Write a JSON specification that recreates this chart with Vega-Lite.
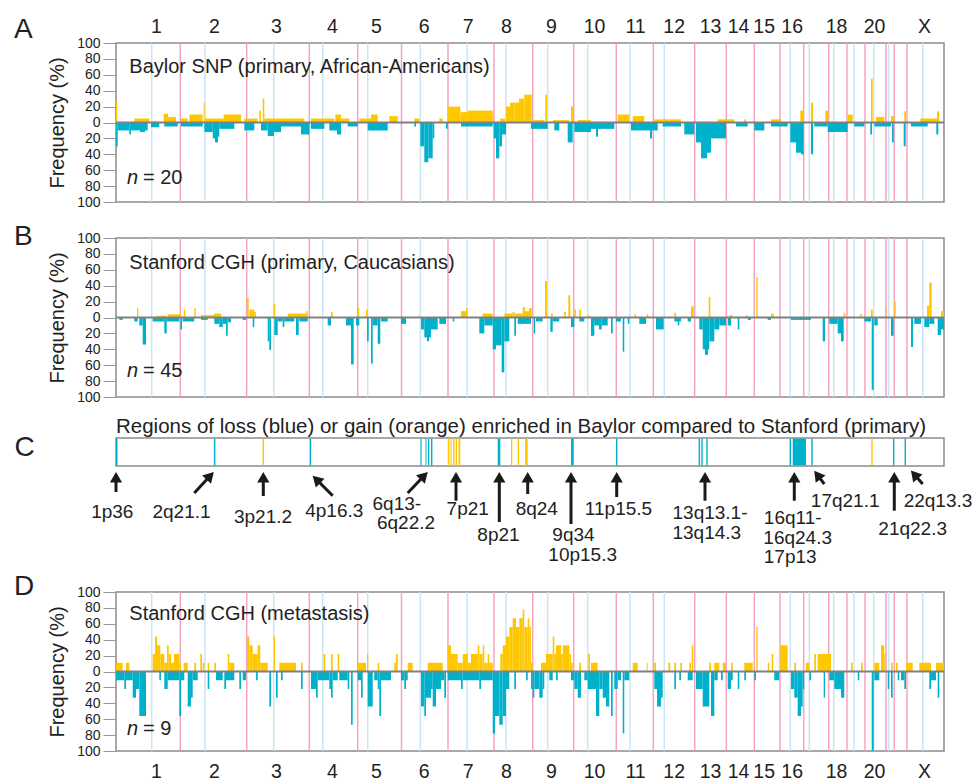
{
"$schema": "https://vega.github.io/schema/vega-lite/v6.json",
"padding": {"left": 13, "top": 15, "right": 2, "bottom": 0},
"bounds": "flush",
"spacing": 36,
"config": {
  "font": "Liberation Sans",
  "view": {"stroke": "#8c8c8c", "strokeWidth": 1.5},
  "axis": {"labelColor": "#222", "titleColor": "#222", "labelFont": "Liberation Sans", "titleFont": "Liberation Sans"},
  "axisY": {"labelOverlap": false, "tickCount": 11},
  "title": {"font": "Liberation Sans", "fontWeight": "normal", "color": "#222"}
},
"datasets": {
  "chrom": [
    {"pos":64.3,"type":"boundary"},{"pos":130.7,"type":"boundary"},{"pos":193.3,"type":"boundary"},{"pos":241.7,"type":"boundary"},{"pos":285.5,"type":"boundary"},{"pos":332,"type":"boundary"},{"pos":378,"type":"boundary"},{"pos":416.7,"type":"boundary"},{"pos":457.7,"type":"boundary"},{"pos":500.3,"type":"boundary"},{"pos":537.3,"type":"boundary"},{"pos":578.7,"type":"boundary"},{"pos":610.3,"type":"boundary"},{"pos":638.3,"type":"boundary"},{"pos":664,"type":"boundary"},{"pos":687.7,"type":"boundary"},{"pos":712.7,"type":"boundary"},{"pos":731,"type":"boundary"},{"pos":749,"type":"boundary"},{"pos":770,"type":"boundary"},{"pos":778.3,"type":"boundary"},{"pos":791,"type":"boundary"},
    {"pos":35.7,"type":"centromere"},{"pos":89,"type":"centromere"},{"pos":157.7,"type":"centromere"},{"pos":206.7,"type":"centromere"},{"pos":251.7,"type":"centromere"},{"pos":304.3,"type":"centromere"},{"pos":351,"type":"centromere"},{"pos":390,"type":"centromere"},{"pos":431.7,"type":"centromere"},{"pos":471.7,"type":"centromere"},{"pos":514,"type":"centromere"},{"pos":548.3,"type":"centromere"},{"pos":674.3,"type":"centromere"},{"pos":693.3,"type":"centromere"},{"pos":717.7,"type":"centromere"},{"pos":738,"type":"centromere"},{"pos":757.7,"type":"centromere"},{"pos":772.7,"type":"centromere"},{"pos":806.7,"type":"centromere"}
  ],
  "bars": [
    {"p":"A","a":0,"b":1.3,"f":26},{"p":"A","a":18.3,"b":33.3,"f":5},{"p":"A","a":37,"b":41,"f":2},{"p":"A","a":47.7,"b":52,"f":11},{"p":"A","a":52,"b":60,"f":7},{"p":"A","a":65,"b":71.7,"f":5},{"p":"A","a":73.3,"b":86.7,"f":10},{"p":"A","a":87.7,"b":88.7,"f":25},{"p":"A","a":89,"b":107.7,"f":5},{"p":"A","a":107.7,"b":125,"f":10},{"p":"A","a":128.3,"b":141.7,"f":5},{"p":"A","a":143.3,"b":145,"f":15},{"p":"A","a":146.7,"b":148.3,"f":30},{"p":"A","a":148.3,"b":188.3,"f":5},{"p":"A","a":195,"b":218.3,"f":5},{"p":"A","a":219.3,"b":225,"f":10},{"p":"A","a":225,"b":233.3,"f":5},{"p":"A","a":243.3,"b":255,"f":5},{"p":"A","a":255,"b":261.7,"f":10},{"p":"A","a":273.3,"b":281.7,"f":8},{"p":"A","a":298.3,"b":303.3,"f":5},{"p":"A","a":323.3,"b":326.7,"f":5},{"p":"A","a":331.7,"b":344.3,"f":20},{"p":"A","a":344.3,"b":351.7,"f":13},{"p":"A","a":351.7,"b":376.7,"f":15},{"p":"A","a":376.7,"b":378,"f":10},{"p":"A","a":384.3,"b":389,"f":5},{"p":"A","a":390,"b":394,"f":20},{"p":"A","a":394,"b":398.3,"f":25},{"p":"A","a":398.3,"b":403,"f":25},{"p":"A","a":403,"b":408.3,"f":30},{"p":"A","a":408.3,"b":415.7,"f":35},{"p":"A","a":416.7,"b":428.3,"f":3},{"p":"A","a":429.3,"b":431,"f":35},{"p":"A","a":436.7,"b":453.3,"f":3},{"p":"A","a":455,"b":457,"f":20},{"p":"A","a":461.7,"b":475,"f":3},{"p":"A","a":501.7,"b":513.3,"f":10},{"p":"A","a":516.7,"b":528.3,"f":8},{"p":"A","a":538.3,"b":565,"f":4},{"p":"A","a":601.7,"b":618.3,"f":4},{"p":"A","a":628.3,"b":630,"f":4},{"p":"A","a":655,"b":665,"f":4},{"p":"A","a":684.3,"b":687.7,"f":15},{"p":"A","a":695,"b":697,"f":25},{"p":"A","a":709.3,"b":712.3,"f":15},{"p":"A","a":731.7,"b":736.7,"f":10},{"p":"A","a":755,"b":756.7,"f":55},{"p":"A","a":760,"b":768.3,"f":7},{"p":"A","a":769,"b":770,"f":20},{"p":"A","a":775,"b":778.3,"f":8},{"p":"A","a":788.3,"b":790,"f":14},{"p":"A","a":804.3,"b":821,"f":5},{"p":"A","a":821,"b":823.3,"f":14},
    {"p":"A","a":0,"b":1.7,"f":-30},{"p":"A","a":1.7,"b":13.3,"f":-10},{"p":"A","a":13.3,"b":15,"f":-15},{"p":"A","a":15,"b":24,"f":-10},{"p":"A","a":24,"b":29,"f":-12},{"p":"A","a":29,"b":31.7,"f":-10},{"p":"A","a":35,"b":43.3,"f":-6},{"p":"A","a":48.3,"b":61.7,"f":-5},{"p":"A","a":65,"b":86.7,"f":-5},{"p":"A","a":88.3,"b":96.7,"f":-12},{"p":"A","a":96.7,"b":99,"f":-20},{"p":"A","a":99,"b":102,"f":-25},{"p":"A","a":102,"b":103.3,"f":-18},{"p":"A","a":103.3,"b":118.3,"f":-8},{"p":"A","a":128.3,"b":138.3,"f":-10},{"p":"A","a":145,"b":151.7,"f":-10},{"p":"A","a":151.7,"b":158,"f":-17},{"p":"A","a":158,"b":165,"f":-12},{"p":"A","a":165,"b":185,"f":-5},{"p":"A","a":185,"b":193.3,"f":-15},{"p":"A","a":195,"b":208.3,"f":-8},{"p":"A","a":213.3,"b":221,"f":-10},{"p":"A","a":221,"b":225,"f":-15},{"p":"A","a":231.7,"b":241.7,"f":-5},{"p":"A","a":251.7,"b":271.7,"f":-10},{"p":"A","a":298.3,"b":300,"f":-5},{"p":"A","a":304.3,"b":308.3,"f":-30},{"p":"A","a":308.3,"b":312.3,"f":-50},{"p":"A","a":312.3,"b":316.7,"f":-45},{"p":"A","a":316.7,"b":318.3,"f":-20},{"p":"A","a":330,"b":331.7,"f":-8},{"p":"A","a":345,"b":376.7,"f":-5},{"p":"A","a":377.7,"b":380,"f":-20},{"p":"A","a":380,"b":383.3,"f":-45},{"p":"A","a":383.3,"b":386,"f":-30},{"p":"A","a":386,"b":390,"f":-15},{"p":"A","a":415,"b":431.7,"f":-8},{"p":"A","a":438.3,"b":443.3,"f":-10},{"p":"A","a":451.7,"b":456.7,"f":-25},{"p":"A","a":458.3,"b":475,"f":-12},{"p":"A","a":475,"b":480,"f":-8},{"p":"A","a":480,"b":482,"f":-18},{"p":"A","a":482,"b":498.3,"f":-8},{"p":"A","a":515,"b":534,"f":-10},{"p":"A","a":534,"b":536,"f":-20},{"p":"A","a":536,"b":541.7,"f":-10},{"p":"A","a":546.7,"b":565,"f":-5},{"p":"A","a":568.3,"b":578.3,"f":-15},{"p":"A","a":580,"b":585,"f":-25},{"p":"A","a":585,"b":591,"f":-45},{"p":"A","a":591,"b":595,"f":-38},{"p":"A","a":595,"b":610,"f":-20},{"p":"A","a":620,"b":631.7,"f":-5},{"p":"A","a":638.3,"b":648.3,"f":-10},{"p":"A","a":655,"b":671.7,"f":-5},{"p":"A","a":674.3,"b":680,"f":-25},{"p":"A","a":680,"b":685,"f":-38},{"p":"A","a":685,"b":687.7,"f":-40},{"p":"A","a":695,"b":697,"f":-40},{"p":"A","a":698.3,"b":711.7,"f":-5},{"p":"A","a":711.7,"b":731.7,"f":-12},{"p":"A","a":738.3,"b":748.3,"f":-5},{"p":"A","a":754.3,"b":756,"f":-15},{"p":"A","a":758.3,"b":775,"f":-5},{"p":"A","a":776,"b":777.7,"f":-25},{"p":"A","a":787.7,"b":789.7,"f":-30},{"p":"A","a":795,"b":811.7,"f":-5},{"p":"A","a":820.3,"b":822.3,"f":-15},
    {"p":"B","a":21,"b":22.3,"f":12},{"p":"B","a":40,"b":50,"f":2},{"p":"B","a":51.7,"b":65,"f":4},{"p":"B","a":67.7,"b":69.3,"f":10},{"p":"B","a":78.3,"b":79.7,"f":12},{"p":"B","a":85,"b":98,"f":3},{"p":"B","a":98,"b":105,"f":5},{"p":"B","a":131,"b":132.7,"f":25},{"p":"B","a":133.3,"b":138.3,"f":10},{"p":"B","a":138.3,"b":140,"f":7},{"p":"B","a":157.7,"b":159.3,"f":17},{"p":"B","a":171.7,"b":190,"f":5},{"p":"B","a":190,"b":191.7,"f":8},{"p":"B","a":215,"b":216.7,"f":7},{"p":"B","a":241.7,"b":243.3,"f":12},{"p":"B","a":250,"b":251.7,"f":10},{"p":"B","a":345,"b":350,"f":8},{"p":"B","a":350,"b":351.7,"f":12},{"p":"B","a":366.7,"b":376.7,"f":5},{"p":"B","a":388.3,"b":396.7,"f":5},{"p":"B","a":396.7,"b":398.3,"f":7},{"p":"B","a":398.3,"b":406.7,"f":5},{"p":"B","a":406.7,"b":409,"f":13},{"p":"B","a":409,"b":413,"f":8},{"p":"B","a":413,"b":415.7,"f":12},{"p":"B","a":429,"b":431,"f":46},{"p":"B","a":435,"b":436.7,"f":5},{"p":"B","a":448.3,"b":450,"f":7},{"p":"B","a":452.3,"b":454.3,"f":28},{"p":"B","a":458.3,"b":460,"f":10},{"p":"B","a":463.3,"b":465,"f":10},{"p":"B","a":471.7,"b":473.3,"f":3},{"p":"B","a":518.3,"b":520,"f":4},{"p":"B","a":530.7,"b":532.3,"f":4},{"p":"B","a":558.3,"b":560,"f":6},{"p":"B","a":575,"b":577.7,"f":14},{"p":"B","a":592.7,"b":594.3,"f":26},{"p":"B","a":613.3,"b":616.7,"f":3},{"p":"B","a":630,"b":631.7,"f":3},{"p":"B","a":640.3,"b":641.7,"f":51},{"p":"B","a":655,"b":657.7,"f":5},{"p":"B","a":727.7,"b":729.3,"f":6},{"p":"B","a":744.3,"b":746,"f":4},{"p":"B","a":755,"b":756.7,"f":10},{"p":"B","a":769,"b":770.3,"f":14},{"p":"B","a":778.3,"b":779.7,"f":20},{"p":"B","a":811,"b":813.3,"f":15},{"p":"B","a":813.3,"b":815.7,"f":44},{"p":"B","a":825,"b":828,"f":8},
    {"p":"B","a":3.3,"b":6.7,"f":-3},{"p":"B","a":18.3,"b":21.7,"f":-5},{"p":"B","a":23.3,"b":26.7,"f":-10},{"p":"B","a":26.7,"b":30,"f":-34},{"p":"B","a":36.7,"b":48.3,"f":-5},{"p":"B","a":48.3,"b":50.7,"f":-20},{"p":"B","a":50.7,"b":63.3,"f":-5},{"p":"B","a":64.3,"b":66,"f":-15},{"p":"B","a":66.7,"b":78.3,"f":-5},{"p":"B","a":85,"b":91.7,"f":-3},{"p":"B","a":98.3,"b":103.3,"f":-8},{"p":"B","a":103.3,"b":106.7,"f":-12},{"p":"B","a":106.7,"b":110,"f":-8},{"p":"B","a":110,"b":111.7,"f":-23},{"p":"B","a":111.7,"b":115,"f":-6},{"p":"B","a":126.7,"b":130,"f":-3},{"p":"B","a":136.7,"b":138.3,"f":-12},{"p":"B","a":151.7,"b":153.3,"f":-30},{"p":"B","a":153.3,"b":155,"f":-41},{"p":"B","a":158.3,"b":161.7,"f":-22},{"p":"B","a":161.7,"b":166.7,"f":-5},{"p":"B","a":166.7,"b":168.3,"f":-12},{"p":"B","a":168.3,"b":178.3,"f":-5},{"p":"B","a":180,"b":182.7,"f":-22},{"p":"B","a":183.3,"b":191.7,"f":-5},{"p":"B","a":211.7,"b":215,"f":-10},{"p":"B","a":230,"b":235,"f":-10},{"p":"B","a":235,"b":237.7,"f":-59},{"p":"B","a":240,"b":243.3,"f":-10},{"p":"B","a":251,"b":252.7,"f":-30},{"p":"B","a":255,"b":256.7,"f":-58},{"p":"B","a":256.7,"b":261.7,"f":-10},{"p":"B","a":261.7,"b":264.3,"f":-33},{"p":"B","a":265,"b":271.7,"f":-5},{"p":"B","a":285,"b":290,"f":-8},{"p":"B","a":305,"b":308.3,"f":-15},{"p":"B","a":308.3,"b":311,"f":-25},{"p":"B","a":311,"b":313,"f":-30},{"p":"B","a":313,"b":315,"f":-25},{"p":"B","a":315,"b":321.7,"f":-15},{"p":"B","a":323.3,"b":330,"f":-8},{"p":"B","a":336.7,"b":338.3,"f":-5},{"p":"B","a":363.3,"b":368.3,"f":-20},{"p":"B","a":368.3,"b":376.7,"f":-10},{"p":"B","a":376.7,"b":380,"f":-40},{"p":"B","a":380,"b":385.7,"f":-35},{"p":"B","a":385.7,"b":388.3,"f":-69},{"p":"B","a":388.3,"b":393.3,"f":-30},{"p":"B","a":398.3,"b":400,"f":-23},{"p":"B","a":401.7,"b":415,"f":-8},{"p":"B","a":417.7,"b":419,"f":-20},{"p":"B","a":420,"b":426.7,"f":-5},{"p":"B","a":434.3,"b":436.7,"f":-18},{"p":"B","a":436.7,"b":443.3,"f":-5},{"p":"B","a":455,"b":458.3,"f":-12},{"p":"B","a":463.3,"b":468.3,"f":-5},{"p":"B","a":475,"b":478.3,"f":-23},{"p":"B","a":478.3,"b":483,"f":-10},{"p":"B","a":483,"b":485.7,"f":-15},{"p":"B","a":485.7,"b":491.7,"f":-10},{"p":"B","a":495,"b":496.7,"f":-20},{"p":"B","a":500,"b":505,"f":-5},{"p":"B","a":506.7,"b":508.3,"f":-43},{"p":"B","a":511.7,"b":513.3,"f":-8},{"p":"B","a":523.3,"b":530,"f":-8},{"p":"B","a":540,"b":547.7,"f":-15},{"p":"B","a":558.3,"b":565,"f":-5},{"p":"B","a":561.7,"b":563.3,"f":-10},{"p":"B","a":571.7,"b":575,"f":-5},{"p":"B","a":583.3,"b":586.7,"f":-15},{"p":"B","a":586.7,"b":589,"f":-40},{"p":"B","a":589,"b":592,"f":-47},{"p":"B","a":592,"b":593.3,"f":-40},{"p":"B","a":593.3,"b":598.3,"f":-30},{"p":"B","a":598.3,"b":603.3,"f":-15},{"p":"B","a":603.3,"b":610,"f":-10},{"p":"B","a":611.7,"b":615,"f":-10},{"p":"B","a":621.7,"b":623.3,"f":-15},{"p":"B","a":631.7,"b":635,"f":-3},{"p":"B","a":651.7,"b":655,"f":-3},{"p":"B","a":675,"b":695,"f":-3},{"p":"B","a":706.7,"b":709,"f":-30},{"p":"B","a":713.3,"b":721.7,"f":-8},{"p":"B","a":721.7,"b":725,"f":-20},{"p":"B","a":725,"b":727.7,"f":-30},{"p":"B","a":748.3,"b":755,"f":-5},{"p":"B","a":755.7,"b":757.7,"f":-91},{"p":"B","a":758.3,"b":761.7,"f":-10},{"p":"B","a":775,"b":777.7,"f":-23},{"p":"B","a":795,"b":797,"f":-37},{"p":"B","a":798.3,"b":805,"f":-8},{"p":"B","a":808.3,"b":813.3,"f":-12},{"p":"B","a":813.3,"b":818.3,"f":-8},{"p":"B","a":821.7,"b":825,"f":-22},{"p":"B","a":825,"b":828,"f":-15},
    {"p":"D","a":0,"b":6.7,"f":11},{"p":"D","a":10,"b":13.3,"f":11},{"p":"D","a":36.7,"b":39,"f":22},{"p":"D","a":39,"b":41,"f":44},{"p":"D","a":41,"b":44.3,"f":33},{"p":"D","a":44.3,"b":48.3,"f":22},{"p":"D","a":48.3,"b":51,"f":11},{"p":"D","a":51,"b":52.7,"f":33},{"p":"D","a":52.7,"b":55,"f":22},{"p":"D","a":55,"b":58,"f":11},{"p":"D","a":58,"b":63.3,"f":22},{"p":"D","a":63.3,"b":65,"f":11},{"p":"D","a":67.7,"b":71.7,"f":11},{"p":"D","a":78.3,"b":80,"f":11},{"p":"D","a":84.3,"b":86,"f":22},{"p":"D","a":86.7,"b":88.3,"f":11},{"p":"D","a":91.7,"b":93.3,"f":11},{"p":"D","a":98.3,"b":100,"f":11},{"p":"D","a":111.7,"b":113.3,"f":22},{"p":"D","a":113.3,"b":118.3,"f":11},{"p":"D","a":131,"b":133.3,"f":44},{"p":"D","a":133.3,"b":136.7,"f":33},{"p":"D","a":136.7,"b":141.7,"f":22},{"p":"D","a":141.7,"b":144.3,"f":33},{"p":"D","a":144.3,"b":151.7,"f":11},{"p":"D","a":157.7,"b":159,"f":44},{"p":"D","a":163.3,"b":180,"f":11},{"p":"D","a":185,"b":186.7,"f":11},{"p":"D","a":207.7,"b":209.3,"f":22},{"p":"D","a":215,"b":216.7,"f":22},{"p":"D","a":221.7,"b":223.3,"f":22},{"p":"D","a":241.7,"b":250,"f":11},{"p":"D","a":251,"b":252.3,"f":22},{"p":"D","a":261.7,"b":263.3,"f":11},{"p":"D","a":278.3,"b":280,"f":11},{"p":"D","a":280,"b":281.7,"f":22},{"p":"D","a":291.7,"b":296.7,"f":11},{"p":"D","a":311.7,"b":326.7,"f":11},{"p":"D","a":331.7,"b":335,"f":33},{"p":"D","a":335,"b":341.7,"f":22},{"p":"D","a":341.7,"b":346.7,"f":11},{"p":"D","a":346.7,"b":351.7,"f":22},{"p":"D","a":351.7,"b":355,"f":11},{"p":"D","a":355,"b":361.7,"f":22},{"p":"D","a":361.7,"b":363.3,"f":33},{"p":"D","a":363.3,"b":366.7,"f":22},{"p":"D","a":366.7,"b":368.3,"f":33},{"p":"D","a":368.3,"b":371.7,"f":11},{"p":"D","a":371.7,"b":373.3,"f":22},{"p":"D","a":373.3,"b":376.7,"f":11},{"p":"D","a":384.3,"b":386.7,"f":22},{"p":"D","a":386.7,"b":390,"f":33},{"p":"D","a":390,"b":393.3,"f":44},{"p":"D","a":393.3,"b":396.7,"f":56},{"p":"D","a":396.7,"b":400,"f":67},{"p":"D","a":400,"b":403.3,"f":56},{"p":"D","a":403.3,"b":406.7,"f":67},{"p":"D","a":406.7,"b":408.3,"f":78},{"p":"D","a":408.3,"b":411.7,"f":56},{"p":"D","a":411.7,"b":413.3,"f":67},{"p":"D","a":413.3,"b":415,"f":56},{"p":"D","a":415,"b":416.7,"f":11},{"p":"D","a":425,"b":430,"f":11},{"p":"D","a":430,"b":436.7,"f":22},{"p":"D","a":436.7,"b":438.3,"f":44},{"p":"D","a":438.3,"b":440,"f":22},{"p":"D","a":440,"b":445,"f":33},{"p":"D","a":445,"b":446.7,"f":22},{"p":"D","a":446.7,"b":453.3,"f":33},{"p":"D","a":453.3,"b":455,"f":22},{"p":"D","a":455,"b":456.7,"f":11},{"p":"D","a":463.3,"b":465,"f":11},{"p":"D","a":472.3,"b":474,"f":22},{"p":"D","a":475,"b":481.7,"f":11},{"p":"D","a":516.7,"b":521.7,"f":11},{"p":"D","a":530.7,"b":531.7,"f":11},{"p":"D","a":538.3,"b":540,"f":11},{"p":"D","a":552.3,"b":554.3,"f":11},{"p":"D","a":558.3,"b":560,"f":11},{"p":"D","a":564.3,"b":566,"f":11},{"p":"D","a":573.3,"b":575,"f":11},{"p":"D","a":575.7,"b":577.3,"f":33},{"p":"D","a":593.3,"b":595,"f":11},{"p":"D","a":598.3,"b":603.3,"f":11},{"p":"D","a":606.7,"b":610,"f":11},{"p":"D","a":615,"b":616.7,"f":11},{"p":"D","a":628.3,"b":636.7,"f":11},{"p":"D","a":640.3,"b":641.7,"f":56},{"p":"D","a":651.7,"b":653.3,"f":11},{"p":"D","a":655.7,"b":657.3,"f":22},{"p":"D","a":664.3,"b":671.7,"f":33},{"p":"D","a":678.3,"b":680,"f":11},{"p":"D","a":690,"b":693.3,"f":11},{"p":"D","a":698.3,"b":700,"f":22},{"p":"D","a":701.7,"b":715,"f":22},{"p":"D","a":735,"b":736.7,"f":11},{"p":"D","a":745,"b":746.7,"f":11},{"p":"D","a":758.3,"b":763.3,"f":11},{"p":"D","a":765,"b":768.3,"f":33},{"p":"D","a":768.3,"b":770,"f":22},{"p":"D","a":775,"b":776.7,"f":11},{"p":"D","a":780,"b":781.7,"f":11},{"p":"D","a":790,"b":796.7,"f":11},{"p":"D","a":803.3,"b":815,"f":11},{"p":"D","a":820,"b":828,"f":11},
    {"p":"D","a":0,"b":8.3,"f":-11},{"p":"D","a":8.3,"b":10,"f":-22},{"p":"D","a":10,"b":16.7,"f":-11},{"p":"D","a":16.7,"b":20,"f":-33},{"p":"D","a":20,"b":23.3,"f":-22},{"p":"D","a":23.3,"b":30,"f":-56},{"p":"D","a":43.3,"b":45,"f":-11},{"p":"D","a":48.3,"b":51.7,"f":-22},{"p":"D","a":51.7,"b":63.3,"f":-11},{"p":"D","a":63.3,"b":65,"f":-56},{"p":"D","a":65,"b":68.3,"f":-11},{"p":"D","a":71.7,"b":75,"f":-44},{"p":"D","a":75,"b":76.7,"f":-33},{"p":"D","a":76.7,"b":81.7,"f":-11},{"p":"D","a":91.7,"b":93.3,"f":-22},{"p":"D","a":100,"b":106.7,"f":-11},{"p":"D","a":108.3,"b":110,"f":-22},{"p":"D","a":110,"b":118.3,"f":-11},{"p":"D","a":123.3,"b":125,"f":-22},{"p":"D","a":126.7,"b":130,"f":-11},{"p":"D","a":140,"b":141.7,"f":-11},{"p":"D","a":153.3,"b":155,"f":-44},{"p":"D","a":160,"b":161.7,"f":-33},{"p":"D","a":165,"b":166.7,"f":-11},{"p":"D","a":185,"b":186.7,"f":-22},{"p":"D","a":195,"b":200,"f":-22},{"p":"D","a":200,"b":201.7,"f":-33},{"p":"D","a":201.7,"b":213.3,"f":-11},{"p":"D","a":213.3,"b":215,"f":-22},{"p":"D","a":215,"b":216.7,"f":-33},{"p":"D","a":216.7,"b":221.7,"f":-11},{"p":"D","a":223.3,"b":231.7,"f":-11},{"p":"D","a":231.7,"b":233.3,"f":-22},{"p":"D","a":235,"b":236.7,"f":-67},{"p":"D","a":241.7,"b":245,"f":-11},{"p":"D","a":245,"b":246.7,"f":-33},{"p":"D","a":251.7,"b":256.7,"f":-44},{"p":"D","a":258.3,"b":261.7,"f":-11},{"p":"D","a":261.7,"b":263.3,"f":-22},{"p":"D","a":263.3,"b":265,"f":-56},{"p":"D","a":265,"b":275,"f":-11},{"p":"D","a":285,"b":288.3,"f":-11},{"p":"D","a":288.3,"b":290,"f":-22},{"p":"D","a":290,"b":291.7,"f":-11},{"p":"D","a":305,"b":308.3,"f":-44},{"p":"D","a":308.3,"b":310,"f":-56},{"p":"D","a":310,"b":315,"f":-33},{"p":"D","a":315,"b":316.7,"f":-22},{"p":"D","a":316.7,"b":320,"f":-44},{"p":"D","a":320,"b":325,"f":-22},{"p":"D","a":325,"b":328.3,"f":-11},{"p":"D","a":328.3,"b":330,"f":-33},{"p":"D","a":331.7,"b":345,"f":-11},{"p":"D","a":345,"b":346.7,"f":-22},{"p":"D","a":346.7,"b":363.3,"f":-11},{"p":"D","a":363.3,"b":365,"f":-22},{"p":"D","a":365,"b":376.7,"f":-11},{"p":"D","a":376.7,"b":379,"f":-78},{"p":"D","a":379,"b":383.3,"f":-56},{"p":"D","a":383.3,"b":386.7,"f":-67},{"p":"D","a":386.7,"b":390,"f":-56},{"p":"D","a":390,"b":393.3,"f":-22},{"p":"D","a":398.3,"b":400,"f":-22},{"p":"D","a":410,"b":411.7,"f":-11},{"p":"D","a":415,"b":416.7,"f":-22},{"p":"D","a":416.7,"b":418.3,"f":-33},{"p":"D","a":418.3,"b":423.3,"f":-22},{"p":"D","a":423.3,"b":426.7,"f":-33},{"p":"D","a":426.7,"b":428.3,"f":-22},{"p":"D","a":433.3,"b":436.7,"f":-11},{"p":"D","a":440,"b":441.7,"f":-11},{"p":"D","a":455,"b":458.3,"f":-11},{"p":"D","a":458.3,"b":461.7,"f":-22},{"p":"D","a":461.7,"b":465,"f":-33},{"p":"D","a":468.3,"b":471.7,"f":-11},{"p":"D","a":471.7,"b":480,"f":-22},{"p":"D","a":480,"b":483.3,"f":-56},{"p":"D","a":483.3,"b":486.7,"f":-22},{"p":"D","a":486.7,"b":490,"f":-33},{"p":"D","a":490,"b":493.3,"f":-44},{"p":"D","a":495,"b":496.7,"f":-56},{"p":"D","a":498.3,"b":501.7,"f":-22},{"p":"D","a":501.7,"b":505,"f":-11},{"p":"D","a":506.7,"b":508.3,"f":-78},{"p":"D","a":508.3,"b":513.3,"f":-11},{"p":"D","a":538.3,"b":541,"f":-22},{"p":"D","a":541,"b":545,"f":-44},{"p":"D","a":545,"b":546.7,"f":-33},{"p":"D","a":558.3,"b":560,"f":-22},{"p":"D","a":563.3,"b":565,"f":-11},{"p":"D","a":571.7,"b":576.7,"f":-11},{"p":"D","a":580,"b":586.7,"f":-22},{"p":"D","a":586.7,"b":593.3,"f":-44},{"p":"D","a":595,"b":598.3,"f":-56},{"p":"D","a":598.3,"b":601.7,"f":-11},{"p":"D","a":605,"b":606.7,"f":-11},{"p":"D","a":611.7,"b":615,"f":-22},{"p":"D","a":615,"b":616.7,"f":-11},{"p":"D","a":621.7,"b":623.3,"f":-22},{"p":"D","a":628.3,"b":630,"f":-11},{"p":"D","a":638.3,"b":640,"f":-11},{"p":"D","a":658.3,"b":663.3,"f":-11},{"p":"D","a":675,"b":678.3,"f":-22},{"p":"D","a":678.3,"b":681.7,"f":-33},{"p":"D","a":681.7,"b":685,"f":-56},{"p":"D","a":685,"b":686.7,"f":-44},{"p":"D","a":686.7,"b":688.3,"f":-22},{"p":"D","a":693.3,"b":695,"f":-11},{"p":"D","a":707.7,"b":709,"f":-33},{"p":"D","a":713.3,"b":718.3,"f":-11},{"p":"D","a":718.3,"b":725,"f":-22},{"p":"D","a":725,"b":728.3,"f":-33},{"p":"D","a":741.7,"b":743.3,"f":-11},{"p":"D","a":755.7,"b":757.7,"f":-100},{"p":"D","a":758.3,"b":763.3,"f":-11},{"p":"D","a":771.7,"b":773.3,"f":-22},{"p":"D","a":775,"b":776.7,"f":-33},{"p":"D","a":781.7,"b":783.3,"f":-11},{"p":"D","a":785,"b":788.3,"f":-11},{"p":"D","a":788.3,"b":790,"f":-22},{"p":"D","a":813.3,"b":815,"f":-22},{"p":"D","a":815,"b":820,"f":-11},{"p":"D","a":821.7,"b":823.3,"f":-33}
  ],
  "regions": [
    {"a":0,"b":1.5,"k":"loss"},{"a":97.9,"b":99.4,"k":"loss"},{"a":193.6,"b":195.1,"k":"loss"},{"a":304.4,"b":305.6,"k":"loss"},{"a":309.5,"b":310.5,"k":"loss"},{"a":312,"b":313.3,"k":"loss"},{"a":315,"b":316.4,"k":"loss"},{"a":381.7,"b":384.3,"k":"loss"},{"a":455,"b":457.7,"k":"loss"},{"a":500,"b":501.4,"k":"loss"},{"a":582.6,"b":584,"k":"loss"},{"a":585.3,"b":586.7,"k":"loss"},{"a":590.3,"b":591.7,"k":"loss"},{"a":673.6,"b":675,"k":"loss"},{"a":676.7,"b":690,"k":"loss"},{"a":695.3,"b":696.7,"k":"loss"},{"a":777,"b":778.4,"k":"loss"},{"a":788.6,"b":790,"k":"loss"},
    {"a":146.6,"b":148,"k":"gain"},{"a":331.7,"b":333.3,"k":"gain"},{"a":334.5,"b":335.7,"k":"gain"},{"a":337,"b":338.5,"k":"gain"},{"a":339.7,"b":341,"k":"gain"},{"a":342.5,"b":344.3,"k":"gain"},{"a":395,"b":396.3,"k":"gain"},{"a":401.7,"b":403,"k":"gain"},{"a":409,"b":411.7,"k":"gain"},{"a":755.3,"b":756.7,"k":"gain"}
  ],
  "arrows": [
    {"tx":0,"ty":59,"hx":0,"hy":44.2,"ang":0},
    {"tx":78.3,"ty":60,"hx":94.2,"hy":42.8,"ang":43},
    {"tx":147.3,"ty":63,"hx":147.3,"hy":44.2,"ang":0},
    {"tx":216.7,"ty":62.7,"hx":200.4,"hy":46.4,"ang":315},
    {"tx":291.7,"ty":60,"hx":308.1,"hy":42.8,"ang":44},
    {"tx":340,"ty":67.7,"hx":340,"hy":44.2,"ang":0},
    {"tx":383.3,"ty":89,"hx":383.3,"hy":44.2,"ang":0},
    {"tx":411.7,"ty":61,"hx":411.7,"hy":44.2,"ang":0},
    {"tx":455,"ty":91,"hx":455,"hy":44.2,"ang":0},
    {"tx":500.7,"ty":64,"hx":500.7,"hy":44.2,"ang":0},
    {"tx":589,"ty":67.7,"hx":589,"hy":44.2,"ang":0},
    {"tx":678.3,"ty":67.7,"hx":678.3,"hy":44.2,"ang":0},
    {"tx":708.3,"ty":51,"hx":701.4,"hy":41.9,"ang":323},
    {"tx":778.3,"ty":77.7,"hx":778.3,"hy":44.2,"ang":0},
    {"tx":806.7,"ty":51,"hx":798.4,"hy":41.6,"ang":319}
  ],
  "bandLabels": [
    {"pos":-3.7,"y":79,"t":"1p36"},{"pos":65.5,"y":79,"t":"2q21.1"},{"pos":147,"y":84,"t":"3p21.2"},{"pos":218.3,"y":77.7,"t":"4p16.3"},{"pos":280.8,"y":71,"t":"6q13-"},{"pos":290,"y":90.2,"t":"6q22.2"},{"pos":351.7,"y":76,"t":"7p21"},{"pos":382.5,"y":102.2,"t":"8p21"},{"pos":420.8,"y":76,"t":"8q24"},{"pos":457.5,"y":102.2,"t":"9q34"},{"pos":466.7,"y":121.7,"t":"10p15.3"},{"pos":502.5,"y":76,"t":"11p15.5"},{"pos":594,"y":80.3,"t":"13q13.1-"},{"pos":590.8,"y":99.8,"t":"13q14.3"},{"pos":676.7,"y":85,"t":"16q11-"},{"pos":681.7,"y":104.5,"t":"16q24.3"},{"pos":674.2,"y":124,"t":"17p13"},{"pos":729.2,"y":67.7,"t":"17q21.1"},{"pos":796.7,"y":96,"t":"21q22.3"},{"pos":822,"y":67.7,"t":"22q13.3"}
  ]
},
"vconcat": [
  {
    "width": 828, "height": 159,
    "title": {"text": "A", "anchor": "start", "frame": "group", "fontSize": 28, "dx": -102, "dy": 28, "offset": 0},
    "layer": [
      {"data": {"name": "chrom"}, "mark": {"type": "rule", "strokeWidth": 1.5},
       "encoding": {
         "x": {"field": "pos", "type": "quantitative", "scale": {"domain": [0, 828], "nice": false, "zero": false},
               "axis": {"orient": "top", "values": [40,98,160,216,260,307.7,351.7,390,435,478,519,557.7,594,622,647.7,675.7,720,758,808], "labelExpr": "['1','2','3','4','5','6','7','8','9','10','11','12','13','14','15','16','18','20','X'][indexof([40,98,160,216,260,307.7,351.7,390,435,478,519,557.7,594,622,647.7,675.7,720,758,808], datum.value)]", "title": null, "domain": false, "ticks": false, "tickSize": 0, "tickCount": 40, "grid": false, "labelFontSize": 19.5, "labelPadding": 7, "labelOverlap": false, "labelFlush": false}},
         "color": {"field": "type", "type": "nominal", "scale": {"domain": ["boundary", "centromere"], "range": ["#F5A3BF", "#C8E5F4"]}, "legend": null}}},
      {"data": {"name": "bars"}, "transform": [{"filter": "datum.p == 'A'"}], "mark": {"type": "rect"},
       "encoding": {
         "x": {"field": "a", "type": "quantitative", "scale": {"domain": [0, 828], "nice": false, "zero": false}},
         "x2": {"field": "b"},
         "y": {"field": "f", "type": "quantitative", "scale": {"domain": [-100, 100], "nice": false, "zero": false},
               "axis": {"values": [-100,-80,-60,-40,-20,0,20,40,60,80,100], "tickCount": 11, "labelExpr": "'' + abs(datum.value)", "title": "Frequency (%)", "titleFontSize": 20, "titleFontWeight": "normal", "titlePadding": 9, "labelFontSize": 14, "labelOverlap": false, "labelFlush": false, "tickSize": 13, "tickColor": "#999", "tickWidth": 1, "domain": false, "grid": false, "labelPadding": 3}},
         "y2": {"datum": 0},
         "color": {"condition": {"test": "datum.f < 0", "value": "#00B1CB"}, "value": "#FFC700"}}},
      {"data": {"values": [{}]}, "mark": {"type": "rule", "color": "#808080", "strokeWidth": 2},
       "encoding": {"y": {"datum": 0, "type": "quantitative", "scale": {"domain": [-100, 100], "nice": false, "zero": false},
               "axis": {"values": [-100,-80,-60,-40,-20,0,20,40,60,80,100], "tickCount": 11, "labelExpr": "'' + abs(datum.value)", "title": "Frequency (%)", "titleFontSize": 20, "titleFontWeight": "normal", "titlePadding": 9, "labelFontSize": 14, "labelOverlap": false, "labelFlush": false, "tickSize": 13, "tickColor": "#999", "tickWidth": 1, "domain": false, "grid": false, "labelPadding": 3}}}},
      {"data": {"values": [{}]}, "mark": {"type": "text", "align": "left", "baseline": "middle", "fontSize": 20, "color": "#222"},
       "encoding": {"x": {"datum": 13.3, "type": "quantitative", "scale": {"domain": [0, 828], "nice": false, "zero": false}}, "y": {"datum": 70, "type": "quantitative", "scale": {"domain": [-100, 100], "nice": false, "zero": false}}, "text": {"value": "Baylor SNP (primary, African-Americans)"}}},
      {"data": {"values": [{}]}, "mark": {"type": "text", "align": "left", "baseline": "middle", "fontSize": 20, "fontStyle": "italic", "color": "#222"},
       "encoding": {"x": {"datum": 11, "type": "quantitative", "scale": {"domain": [0, 828], "nice": false, "zero": false}}, "y": {"datum": -70, "type": "quantitative", "scale": {"domain": [-100, 100], "nice": false, "zero": false}}, "text": {"value": "n"}}},
      {"data": {"values": [{}]}, "mark": {"type": "text", "align": "left", "baseline": "middle", "fontSize": 20, "color": "#222"},
       "encoding": {"x": {"datum": 27, "type": "quantitative", "scale": {"domain": [0, 828], "nice": false, "zero": false}}, "y": {"datum": -70, "type": "quantitative", "scale": {"domain": [-100, 100], "nice": false, "zero": false}}, "text": {"value": "= 20"}}}
    ]
  },
  {
    "width": 828, "height": 159,
    "title": {"text": "B", "anchor": "start", "frame": "group", "fontSize": 28, "dx": -102, "dy": 20, "offset": 0},
    "layer": [
      {"data": {"name": "chrom"}, "mark": {"type": "rule", "strokeWidth": 1.5},
       "encoding": {
         "x": {"field": "pos", "type": "quantitative", "scale": {"domain": [0, 828], "nice": false, "zero": false}, "axis": null},
         "color": {"field": "type", "type": "nominal", "scale": {"domain": ["boundary", "centromere"], "range": ["#F5A3BF", "#C8E5F4"]}, "legend": null}}},
      {"data": {"name": "bars"}, "transform": [{"filter": "datum.p == 'B'"}], "mark": {"type": "rect"},
       "encoding": {
         "x": {"field": "a", "type": "quantitative", "scale": {"domain": [0, 828], "nice": false, "zero": false}, "axis": null},
         "x2": {"field": "b"},
         "y": {"field": "f", "type": "quantitative", "scale": {"domain": [-100, 100], "nice": false, "zero": false},
               "axis": {"values": [-100,-80,-60,-40,-20,0,20,40,60,80,100], "tickCount": 11, "labelExpr": "'' + abs(datum.value)", "title": "Frequency (%)", "titleFontSize": 20, "titleFontWeight": "normal", "titlePadding": 9, "labelFontSize": 14, "labelOverlap": false, "labelFlush": false, "tickSize": 13, "tickColor": "#999", "tickWidth": 1, "domain": false, "grid": false, "labelPadding": 3}},
         "y2": {"datum": 0},
         "color": {"condition": {"test": "datum.f < 0", "value": "#00B1CB"}, "value": "#FFC700"}}},
      {"data": {"values": [{}]}, "mark": {"type": "rule", "color": "#808080", "strokeWidth": 2},
       "encoding": {"y": {"datum": 0, "type": "quantitative", "scale": {"domain": [-100, 100], "nice": false, "zero": false},
               "axis": {"values": [-100,-80,-60,-40,-20,0,20,40,60,80,100], "tickCount": 11, "labelExpr": "'' + abs(datum.value)", "title": "Frequency (%)", "titleFontSize": 20, "titleFontWeight": "normal", "titlePadding": 9, "labelFontSize": 14, "labelOverlap": false, "labelFlush": false, "tickSize": 13, "tickColor": "#999", "tickWidth": 1, "domain": false, "grid": false, "labelPadding": 3}}}},
      {"data": {"values": [{}]}, "mark": {"type": "text", "align": "left", "baseline": "middle", "fontSize": 20, "color": "#222"},
       "encoding": {"x": {"datum": 13.3, "type": "quantitative", "scale": {"domain": [0, 828], "nice": false, "zero": false}, "axis": null}, "y": {"datum": 69, "type": "quantitative", "scale": {"domain": [-100, 100], "nice": false, "zero": false}}, "text": {"value": "Stanford CGH (primary, Caucasians)"}}},
      {"data": {"values": [{}]}, "mark": {"type": "text", "align": "left", "baseline": "middle", "fontSize": 20, "fontStyle": "italic", "color": "#222"},
       "encoding": {"x": {"datum": 11, "type": "quantitative", "scale": {"domain": [0, 828], "nice": false, "zero": false}, "axis": null}, "y": {"datum": -67, "type": "quantitative", "scale": {"domain": [-100, 100], "nice": false, "zero": false}}, "text": {"value": "n"}}},
      {"data": {"values": [{}]}, "mark": {"type": "text", "align": "left", "baseline": "middle", "fontSize": 20, "color": "#222"},
       "encoding": {"x": {"datum": 27, "type": "quantitative", "scale": {"domain": [0, 828], "nice": false, "zero": false}, "axis": null}, "y": {"datum": -67, "type": "quantitative", "scale": {"domain": [-100, 100], "nice": false, "zero": false}}, "text": {"value": "= 45"}}}
    ]
  },
  {
    "width": 828, "height": 123,
    "view": {"stroke": null},
    "title": {"text": "Regions of loss (blue) or gain (orange) enriched in Baylor compared to Stanford (primary)", "anchor": "start", "frame": "group", "fontSize": 20.5, "offset": -4},
    "layer": [
      {"data": {"values": [{}]}, "mark": {"type": "rect", "fill": null, "fillOpacity": 0, "stroke": "#8c8c8c", "strokeWidth": 1.5},
       "encoding": {
         "x": {"datum": 0, "type": "quantitative", "scale": {"domain": [0, 828], "nice": false, "zero": false}, "axis": null},
         "x2": {"datum": 828},
         "y": {"datum": 5, "type": "quantitative", "scale": {"domain": [0, 123], "nice": false, "zero": false, "reverse": true},
               "axis": {"title": "C", "titleAngle": 0, "titleFontSize": 28, "titleFontWeight": "normal", "titleAlign": "left", "titleBaseline": "middle", "titleX": -102, "titleY": 14, "labels": false, "ticks": false, "domain": false, "grid": false}},
         "y2": {"datum": 33}}},
      {"data": {"name": "regions"}, "mark": {"type": "rect"},
       "encoding": {
         "x": {"field": "a", "type": "quantitative", "scale": {"domain": [0, 828], "nice": false, "zero": false}, "axis": null},
         "x2": {"field": "b"},
         "y": {"datum": 5.6, "type": "quantitative", "scale": {"domain": [0, 123], "nice": false, "zero": false, "reverse": true}},
         "y2": {"datum": 32.4},
         "color": {"condition": {"test": "datum.k == 'loss'", "value": "#00B1CB"}, "value": "#FFC700"}}},
      {"data": {"name": "arrows"}, "mark": {"type": "rule", "strokeWidth": 3, "color": "#1a1a1a"},
       "encoding": {
         "x": {"field": "tx", "type": "quantitative", "scale": {"domain": [0, 828], "nice": false, "zero": false}, "axis": null},
         "x2": {"field": "hx"},
         "y": {"field": "ty", "type": "quantitative", "scale": {"domain": [0, 123], "nice": false, "zero": false, "reverse": true}},
         "y2": {"field": "hy"}}},
      {"data": {"name": "arrows"}, "mark": {"type": "point", "shape": "triangle-up", "filled": true, "size": 150, "color": "#1a1a1a", "opacity": 1},
       "encoding": {
         "x": {"field": "hx", "type": "quantitative", "scale": {"domain": [0, 828], "nice": false, "zero": false}, "axis": null},
         "y": {"field": "hy", "type": "quantitative", "scale": {"domain": [0, 123], "nice": false, "zero": false, "reverse": true}},
         "angle": {"field": "ang", "type": "quantitative", "scale": null}}},
      {"data": {"name": "bandLabels"}, "mark": {"type": "text", "align": "center", "baseline": "middle", "fontSize": 19, "color": "#222"},
       "encoding": {
         "x": {"field": "pos", "type": "quantitative", "scale": {"domain": [0, 828], "nice": false, "zero": false}, "axis": null},
         "y": {"field": "y", "type": "quantitative", "scale": {"domain": [0, 123], "nice": false, "zero": false, "reverse": true}},
         "text": {"field": "t"}}}
    ]
  },
  {
    "width": 828, "height": 159,
    "title": {"text": "D", "anchor": "start", "frame": "group", "fontSize": 28, "dx": -102, "dy": 16, "offset": 0},
    "layer": [
      {"data": {"name": "chrom"}, "mark": {"type": "rule", "strokeWidth": 1.5},
       "encoding": {
         "x": {"field": "pos", "type": "quantitative", "scale": {"domain": [0, 828], "nice": false, "zero": false},
               "axis": {"orient": "bottom", "values": [40,98,160,216,260,307.7,351.7,390,435,478,519,557.7,594,622,647.7,675.7,720,758,808], "labelExpr": "['1','2','3','4','5','6','7','8','9','10','11','12','13','14','15','16','18','20','X'][indexof([40,98,160,216,260,307.7,351.7,390,435,478,519,557.7,594,622,647.7,675.7,720,758,808], datum.value)]", "title": null, "domain": false, "ticks": false, "tickSize": 0, "tickCount": 40, "grid": false, "labelFontSize": 19.5, "labelPadding": 11, "labelOverlap": false, "labelFlush": false}},
         "color": {"field": "type", "type": "nominal", "scale": {"domain": ["boundary", "centromere"], "range": ["#F5A3BF", "#C8E5F4"]}, "legend": null}}},
      {"data": {"name": "bars"}, "transform": [{"filter": "datum.p == 'D'"}], "mark": {"type": "rect"},
       "encoding": {
         "x": {"field": "a", "type": "quantitative", "scale": {"domain": [0, 828], "nice": false, "zero": false}},
         "x2": {"field": "b"},
         "y": {"field": "f", "type": "quantitative", "scale": {"domain": [-100, 100], "nice": false, "zero": false},
               "axis": {"values": [-100,-80,-60,-40,-20,0,20,40,60,80,100], "tickCount": 11, "labelExpr": "'' + abs(datum.value)", "title": "Frequency (%)", "titleFontSize": 20, "titleFontWeight": "normal", "titlePadding": 9, "labelFontSize": 14, "labelOverlap": false, "labelFlush": false, "tickSize": 13, "tickColor": "#999", "tickWidth": 1, "domain": false, "grid": false, "labelPadding": 3}},
         "y2": {"datum": 0},
         "color": {"condition": {"test": "datum.f < 0", "value": "#00B1CB"}, "value": "#FFC700"}}},
      {"data": {"values": [{}]}, "mark": {"type": "rule", "color": "#808080", "strokeWidth": 2},
       "encoding": {"y": {"datum": 0, "type": "quantitative", "scale": {"domain": [-100, 100], "nice": false, "zero": false},
               "axis": {"values": [-100,-80,-60,-40,-20,0,20,40,60,80,100], "tickCount": 11, "labelExpr": "'' + abs(datum.value)", "title": "Frequency (%)", "titleFontSize": 20, "titleFontWeight": "normal", "titlePadding": 9, "labelFontSize": 14, "labelOverlap": false, "labelFlush": false, "tickSize": 13, "tickColor": "#999", "tickWidth": 1, "domain": false, "grid": false, "labelPadding": 3}}}},
      {"data": {"values": [{}]}, "mark": {"type": "text", "align": "left", "baseline": "middle", "fontSize": 20, "color": "#222"},
       "encoding": {"x": {"datum": 13.3, "type": "quantitative", "scale": {"domain": [0, 828], "nice": false, "zero": false}}, "y": {"datum": 72, "type": "quantitative", "scale": {"domain": [-100, 100], "nice": false, "zero": false}}, "text": {"value": "Stanford CGH (metastasis)"}}},
      {"data": {"values": [{}]}, "mark": {"type": "text", "align": "left", "baseline": "middle", "fontSize": 20, "fontStyle": "italic", "color": "#222"},
       "encoding": {"x": {"datum": 11, "type": "quantitative", "scale": {"domain": [0, 828], "nice": false, "zero": false}}, "y": {"datum": -72, "type": "quantitative", "scale": {"domain": [-100, 100], "nice": false, "zero": false}}, "text": {"value": "n"}}},
      {"data": {"values": [{}]}, "mark": {"type": "text", "align": "left", "baseline": "middle", "fontSize": 20, "color": "#222"},
       "encoding": {"x": {"datum": 27, "type": "quantitative", "scale": {"domain": [0, 828], "nice": false, "zero": false}}, "y": {"datum": -72, "type": "quantitative", "scale": {"domain": [-100, 100], "nice": false, "zero": false}}, "text": {"value": "= 9"}}}
    ]
  }
]
}
